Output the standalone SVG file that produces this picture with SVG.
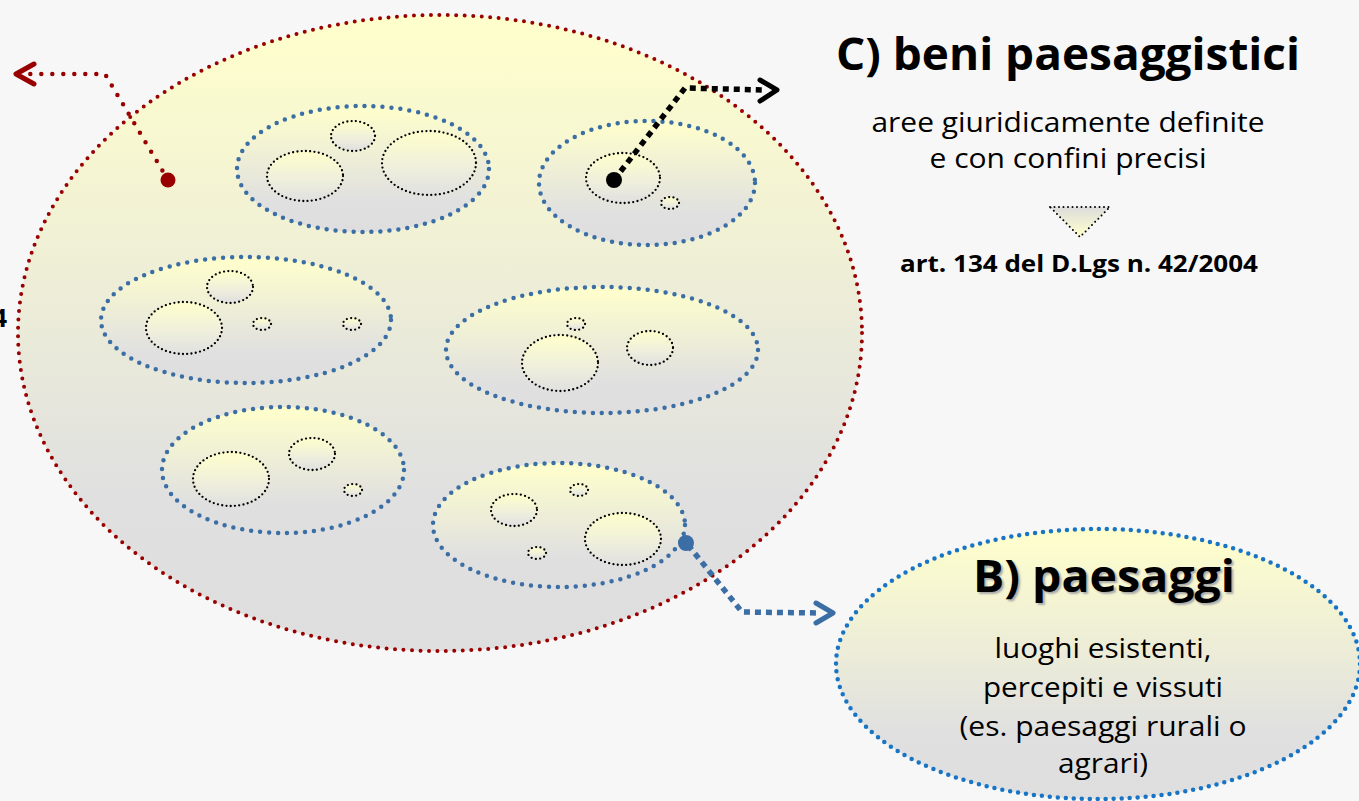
<svg xmlns="http://www.w3.org/2000/svg" width="1359" height="801" viewBox="0 0 1359 801">
<defs>
<linearGradient id="g" x1="0" y1="0" x2="0" y2="1">
<stop offset="0" stop-color="#ffffcc"/>
<stop offset="0.75" stop-color="#e0e0e0"/>
<stop offset="1" stop-color="#dedede"/>
</linearGradient>
<linearGradient id="gs" x1="0" y1="0" x2="0" y2="1">
<stop offset="0" stop-color="#ffffcc"/>
<stop offset="0.6" stop-color="#eeeedd"/>
<stop offset="1" stop-color="#e0e0e0"/>
</linearGradient>
<linearGradient id="gt" x1="0" y1="0" x2="0" y2="1">
<stop offset="0" stop-color="#dddddd"/>
<stop offset="1" stop-color="#ffffcc"/>
</linearGradient>
</defs>
<style>
.big{fill:url(#g);stroke:#990000;stroke-width:4;stroke-linecap:round;stroke-dasharray:0 8.5}
.grp{fill:url(#g);stroke:#3b6ea5;stroke-width:4.5;stroke-linecap:round;stroke-dasharray:0 9}
.sm{fill:url(#gs);stroke:#000;stroke-width:2.3;stroke-linecap:round;stroke-dasharray:0 4.3}
.bEl{fill:url(#g);stroke:#1874c4;stroke-width:4.5;stroke-linecap:round;stroke-dasharray:0 8}
.t{font-family:"Open Sans","Noto Sans","Liberation Sans",sans-serif;fill:#000;text-anchor:middle}
.h{font-weight:bold;font-size:45px}
.b{font-size:28px}
</style>
<rect width="1359" height="801" fill="#f7f7f7"/>
<text class="t" x="7" y="327" style="font-size:25px;font-weight:bold;text-anchor:end">4</text>
<g id="main">
<ellipse class="big" cx="440" cy="333" rx="422" ry="318"/>
</g>
<g id="group1">
<ellipse class="grp" cx="363" cy="169" rx="126" ry="63"/>
<ellipse class="sm" cx="353" cy="136" rx="22" ry="15"/>
<ellipse class="sm" cx="305" cy="176" rx="38" ry="25"/>
<ellipse class="sm" cx="429" cy="163" rx="47" ry="32"/>
</g>
<g id="group2">
<ellipse class="grp" cx="647" cy="183" rx="108" ry="62"/>
<ellipse class="sm" cx="623" cy="178" rx="37" ry="25"/>
<ellipse class="sm" cx="670" cy="203" rx="9" ry="6"/>
</g>
<g id="group3">
<ellipse class="grp" cx="246" cy="320" rx="145" ry="63"/>
<ellipse class="sm" cx="230" cy="287" rx="23" ry="16"/>
<ellipse class="sm" cx="184" cy="328" rx="38" ry="26"/>
<ellipse class="sm" cx="262" cy="324" rx="9" ry="6"/>
<ellipse class="sm" cx="352" cy="324" rx="9" ry="6"/>
</g>
<g id="group4">
<ellipse class="grp" cx="602" cy="350" rx="156" ry="63"/>
<ellipse class="sm" cx="576" cy="324" rx="9" ry="6"/>
<ellipse class="sm" cx="560" cy="363" rx="38" ry="28"/>
<ellipse class="sm" cx="650" cy="348" rx="23" ry="17"/>
</g>
<g id="group5">
<ellipse class="grp" cx="283" cy="470" rx="121" ry="63"/>
<ellipse class="sm" cx="312" cy="454" rx="23" ry="16"/>
<ellipse class="sm" cx="231" cy="479" rx="38" ry="27"/>
<ellipse class="sm" cx="353" cy="490" rx="9" ry="6"/>
</g>
<g id="group6">
<ellipse class="grp" cx="559" cy="525" rx="126" ry="62"/>
<ellipse class="sm" cx="579" cy="490" rx="9" ry="6"/>
<ellipse class="sm" cx="514" cy="510" rx="23" ry="16"/>
<ellipse class="sm" cx="537" cy="553" rx="9" ry="6"/>
<ellipse class="sm" cx="623" cy="539" rx="38" ry="26"/>
</g>
<g id="connectors" fill="none">
<g stroke="#990000">
<path d="M168 180 L105 74 L22 74" stroke-width="4.5" stroke-linecap="round" stroke-dasharray="0 11"/>
<path d="M34 64 L16 74 L34 84" stroke-width="5" stroke-linecap="round" stroke-linejoin="round"/>
<circle cx="168" cy="180" r="7.5" fill="#990000" stroke="none"/>
</g>
<g stroke="#000">
<path d="M614 180 L685 88 L765 90" stroke-width="5.5" stroke-dasharray="6 5"/>
<path d="M760 80 L777 90 L760 101" stroke-width="5" stroke-linecap="round" stroke-linejoin="round"/>
<circle cx="614" cy="180" r="8" fill="#000" stroke="none"/>
</g>
<g stroke="#3b6ea5">
<path d="M688 545 L742 612 L820 613" stroke-width="5.5" stroke-dasharray="6 5"/>
<path d="M816 603 L833 613 L816 623" stroke-width="5" stroke-linecap="round" stroke-linejoin="round"/>
<circle cx="686" cy="543" r="8" fill="#3b6ea5" stroke="none"/>
</g>
</g>
<g id="C">
<text class="t h" x="1068" y="70" textLength="464" lengthAdjust="spacingAndGlyphs">C) beni paesaggistici</text>
<text class="t b" x="1068" y="132" textLength="393" lengthAdjust="spacingAndGlyphs">aree giuridicamente definite</text>
<text class="t b" x="1068" y="168" textLength="277" lengthAdjust="spacingAndGlyphs">e con confini precisi</text>
<polygon points="1050,207 1110,207 1080,237" fill="url(#gt)" stroke="#000" stroke-width="2" stroke-linecap="round" stroke-dasharray="0 4.5"/>
<text class="t" x="1079" y="272" textLength="358" lengthAdjust="spacingAndGlyphs" style="font-size:24px;font-weight:bold">art. 134 del D.Lgs n. 42/2004</text>
</g>
<g id="B">
<ellipse class="bEl" cx="1098" cy="664" rx="262" ry="135"/>
<text class="t h" x="1104" y="592" textLength="262" lengthAdjust="spacingAndGlyphs" style="text-shadow:2px 2px 2px #aaa">B) paesaggi</text>
<text class="t b" x="1103" y="658" textLength="217" lengthAdjust="spacingAndGlyphs">luoghi esistenti,</text>
<text class="t b" x="1103" y="697" textLength="240" lengthAdjust="spacingAndGlyphs">percepiti e vissuti</text>
<text class="t b" x="1103" y="736" textLength="287" lengthAdjust="spacingAndGlyphs">(es. paesaggi rurali o</text>
<text class="t b" x="1103" y="773" textLength="90" lengthAdjust="spacingAndGlyphs">agrari)</text>
</g>
</svg>
